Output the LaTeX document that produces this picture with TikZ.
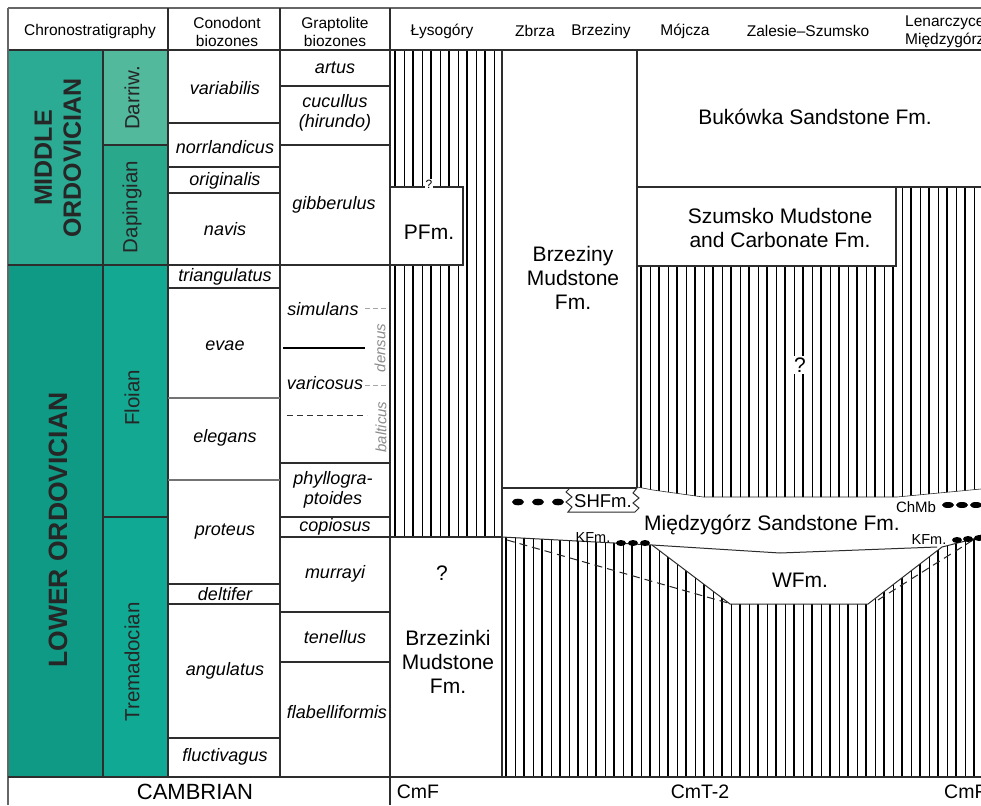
\documentclass[tikz,border=0pt]{standalone}
\usepackage{fontspec}
\setmainfont{Liberation Sans}
\definecolor{midord}{RGB}{43,170,148}
\definecolor{darriw}{RGB}{82,185,156}
\definecolor{daping}{RGB}{42,168,140}
\definecolor{loword}{RGB}{14,154,132}
\definecolor{floian}{RGB}{18,168,146}
\definecolor{tremad}{RGB}{16,170,148}
\definecolor{gridln}{RGB}{45,45,45}
\newcommand\vhatch[4]{%
  \pgfmathtruncatemacro{\nh}{(#2-#1)/9}%
  \foreach \i in {0,...,\nh}{%
    \pgfmathsetmacro{\hx}{#1+\i*9}%
    \pgfmathsetmacro{\hw}{ifthenelse(mod(\i,2)==0,ifthenelse(mod(\i,6)==0,2.6,1.7),0.9)}%
    \draw[line width=\hw pt, black] (\hx,#3) -- (\hx,#4);
  }}
\begin{document}
\begin{tikzpicture}[x=1pt,y=-1pt,
  gl/.style={draw=gridln, line width=1.3pt},
  hdl/.style={draw=black!60, line width=1.2pt},
  thin/.style={draw=gridln, line width=1pt},
  zone/.style={font=\fontsize{18}{19.5}\selectfont\itshape, inner sep=0, align=center},
  hdr/.style={font=\fontsize{15.5}{18.5}\selectfont, inner sep=0, align=center},
  fmn/.style={font=\fontsize{21}{24}\selectfont, inner sep=0, align=center},
  sml/.style={font=\fontsize{14.5}{16}\selectfont, inner sep=0},
  stg/.style={font=\fontsize{20.5}{22}\selectfont, inner sep=0, rotate=90, text=black!85},
  era/.style={font=\fontsize{25}{29}\selectfont\bfseries, inner sep=0, rotate=90, align=center, text=black!85},
  grayz/.style={font=\fontsize{15}{17}\selectfont\itshape, text=black!45, inner sep=0, rotate=90},
  btm/.style={font=\fontsize{19.5}{22}\selectfont, inner sep=0},
  pebble/.style={fill=black, draw=none}]
\useasboundingbox (0,0) rectangle (981,805);
\fill[white] (0,0) rectangle (981,805);

% coloured chronostratigraphy cells
\fill[midord] (8,50) rectangle (103,265);
\fill[darriw] (103,50) rectangle (168,145);
\fill[daping] (103,145) rectangle (168,265);
\fill[loword] (8,265) rectangle (103,777);
\fill[floian] (103,265) rectangle (168,517);
\fill[tremad] (103,517) rectangle (168,777);

% hatching: Lysogory column
\begin{scope}
  \clip (390,50) rectangle (502,537);
  \vhatch{395}{500}{50}{537}
\end{scope}
\draw[gl, fill=white] (390,187) rectangle (463,265);

% hatching: upper right
\begin{scope}
  \clip (637,266) -- (896,266) -- (896,187) -- (981,187) -- (981,489)
        -- (897,497) -- (703,497) -- (653,490) -- (637,487) -- cycle;
  \vhatch{641}{985}{187}{500}
\end{scope}
\draw[draw=gridln, line width=0.6pt] (637,487) -- (653,490) -- (703,497) -- (897,497) -- (981,489);

% hatching: lower
\begin{scope}
  \clip (502,537) -- (652,545) -- (730,604) -- (868,604) -- (942,547)
        -- (981,537) -- (981,777) -- (502,777) -- cycle;
  \vhatch{506}{985}{530}{777}
\end{scope}
\draw[thin] (502,537) -- (652,545) -- (730,604) -- (868,604) -- (942,547) -- (981,537);
\draw[thin] (652,545) -- (780,553) -- (937,547);
\draw[draw=black!85, line width=1pt, dash pattern=on 8pt off 5pt] (507,540) -- (728,603);
\draw[draw=black!85, line width=1pt, dash pattern=on 8pt off 5pt] (878,600) -- (981,535);

% header frame
\draw[hdl] (8,8) -- (981,8);
\draw[gl] (8,50) -- (981,50);
\draw[hdl] (8,8) -- (8,805);
\draw[gl] (168,8) -- (168,777);
\draw[gl] (280,8) -- (280,777);
\draw[gl] (390,8) -- (390,805);
\draw[gl] (103,50) -- (103,777);
\draw[gl] (502,50) -- (502,777);
\draw[gl] (637,50) -- (637,488);
\draw[gl] (637,187) -- (981,187);
\draw[gl] (637,266) -- (896,266) -- (896,187);
\draw[gl] (502,488) -- (637,488);
\draw[gl] (8,777) -- (981,777);

% chronostratigraphic and zone boundaries
\draw[gl] (8,265) -- (390,265);
\draw[gl] (103,145) -- (168,145);
\draw[gl] (280,145) -- (390,145);
\draw[gl] (103,517) -- (168,517);
\draw[gl] (280,517) -- (390,517);
\draw[gl] (280,537) -- (502,537);
\foreach \yy in {123,167,193,288,584,604,738} {\draw[gl] (168,\yy) -- (280,\yy);}
\foreach \yy in {398,480} {\draw[draw=black!55, line width=1.2pt] (168,\yy) -- (280,\yy);}
\foreach \yy in {86,463,612,662} {\draw[gl] (280,\yy) -- (390,\yy);}
\draw[draw=black, line width=1.2pt] (283,348) -- (365,348);
\draw[draw=black!80, line width=1pt, dash pattern=on 6pt off 4pt] (287,415) -- (367,415);
\draw[draw=black!35, line width=1pt, dash pattern=on 5pt off 3pt] (365,308) -- (388,308);
\draw[draw=black!35, line width=1pt, dash pattern=on 5pt off 3pt] (365,385) -- (388,385);

% SHFm box with zigzag sides
\draw[thin] (570,488) -- (566,492) -- (572,497) -- (566,502) -- (572,507) -- (568,512)
  -- (635,512) -- (639,508) -- (633,503) -- (639,498) -- (633,493) -- (637,488);

% pebbles
\foreach \px in {518,538,558} {\fill[pebble] (\px,502) ellipse [x radius=6pt, y radius=3.3pt];}
\foreach \px in {621,633,645} {\fill[pebble] (\px,543) ellipse [x radius=5pt, y radius=3pt];}
\fill[pebble] (957,540) ellipse [x radius=5pt, y radius=3pt];
\fill[pebble] (968,539) ellipse [x radius=5pt, y radius=3pt];
\fill[pebble] (979,538) ellipse [x radius=5pt, y radius=3pt];
\foreach \px in {948,962,976} {\fill[pebble] (\px,505) ellipse [x radius=6pt, y radius=3pt];}

% header texts
\node[hdr] (hchr) at (90,31) {Chronostratigraphy};
\node[hdr] (hcon) at (227,32) {Conodont\\biozones};
\node[hdr] (hgra) at (335,32) {Graptolite\\biozones};
\node[hdr] (hlys) at (442,31) {Łysogóry};
\node[hdr] (hzbr) at (535,31) {Zbrza};
\node[hdr] (hbrz) at (601,31) {Brzeziny};
\node[hdr] (hmoj) at (685,31) {Mójcza};
\node[hdr] (hzal) at (808,31) {Zalesie–Szumsko};
\node[hdr, anchor=west, align=left] (hlen) at (905,32) {Lenarczyce\\Międzygórz};

% series and stages
\node[era] (mord) at (58,158) {MIDDLE\\ORDOVICIAN};
\node[era, font=\fontsize{26.5}{29}\selectfont\bfseries] (lord) at (58,530) {LOWER ORDOVICIAN};
\node[stg] (sdar) at (132,98) {Darriw.};
\node[stg] (sdap) at (132,207) {Dapingian};
\node[stg] (sflo) at (132,398) {Floian};
\node[stg] (stre) at (132,662) {Tremadocian};

% conodont zones
\node[zone] (c1) at (225,88) {variabilis};
\node[zone] (c2) at (225,147) {norrlandicus};
\node[zone] (c3) at (225,181) {originalis};
\node[zone] (c4) at (225,229) {navis};
\node[zone] (c5) at (225,277) {triangulatus};
\node[zone] (c6) at (225,346) {evae};
\node[zone] (c7) at (225,438) {elegans};
\node[zone] (c8) at (225,532) {proteus};
\node[zone] (c9) at (225,594) {deltifer};
\node[zone] (c10) at (225,671) {angulatus};
\node[zone] (c11) at (225,757) {fluctivagus};

% graptolite zones
\node[zone] (g1) at (335,68) {artus};
\node[zone] (g2) at (335,113) {cucullus\\(hirundo)};
\node[zone] (g3) at (334,205) {gibberulus};
\node[zone] (g4) at (323,309) {simulans};
\node[zone] (g5) at (325,383) {varicosus};
\node[zone] (g6) at (333,490) {phyllogra-\\ptoides};
\node[zone] (g7) at (335,527) {copiosus};
\node[zone] (g8) at (335,574) {murrayi};
\node[zone] (g9) at (335,637) {tenellus};
\node[zone] (g10) at (337,712) {flabelliformis};
\node[grayz] (gden) at (380,348) {densus};
\node[grayz] (gbal) at (381,427) {balticus};

% formations
\node[fmn] (fbuk) at (815,117) {Bukówka Sandstone Fm.};
\node[fmn] (fszu) at (780,228) {Szumsko Mudstone\\and Carbonate Fm.};
\node[fmn] (fbrz) at (573,278) {Brzeziny\\Mudstone\\Fm.};
\node[fmn] (fpfm) at (429,232) {PFm.};
\node[font=\fontsize{12}{14}\selectfont, inner sep=0.5pt, fill=white] (qpfm) at (429,184) {?};
\node[fmn] (qbrk) at (442,573) {?};
\node[fmn] (fbrk) at (448,662) {Brzezinki\\Mudstone\\Fm.};
\node[fmn, fill=white, inner sep=1.5pt] (qszu) at (800,365) {?};
\node[font=\fontsize{18.5}{20}\selectfont, inner sep=0] (fshf) at (603,501) {SHFm.};
\node[fmn] (fmie) at (772,525) {Międzygórz Sandstone Fm.};
\node[fmn] (fwfm) at (800,580) {WFm.};
\node[sml] (fkf1) at (593,538) {KFm.};
\node[sml] (fkf2) at (929,540) {KFm.};
\node[font=\fontsize{15}{17}\selectfont, inner sep=0] (fchm) at (916,507) {ChMb};

% bottom row
\node[font=\fontsize{22}{24}\selectfont, inner sep=0] (bcam) at (195,792) {CAMBRIAN};
\node[btm] (bcf1) at (418,792) {CmF};
\node[btm] (bct2) at (700,792) {CmT-2};
\node[btm, anchor=west] (bcf2) at (944,792) {CmF};
\end{tikzpicture}
\end{document}
